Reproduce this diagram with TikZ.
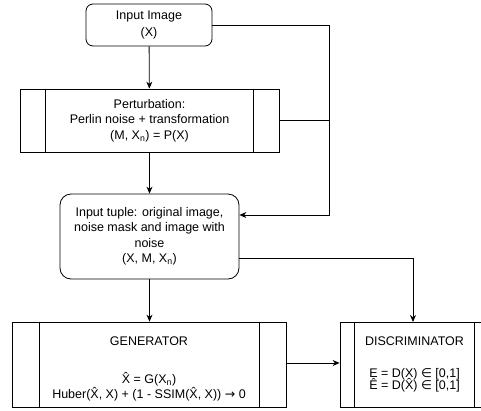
\documentclass[tikz,border=0pt]{standalone}
\usepackage{fontspec}
\setmainfont{Liberation Sans}
\newfontfamily\symfont{DejaVu Sans}
\usetikzlibrary{arrows.meta,positioning,calc}

\begin{document}
\begin{tikzpicture}[x=1pt, y=-1pt,
  every node/.style={font=\fontsize{12.5}{15.5}\selectfont, align=center, inner sep=0pt},
  roundbox/.style={draw, rounded corners=7pt, line width=0.8pt},
  procbox/.style={draw, line width=0.8pt},
  flow/.style={-{Stealth[length=7pt, width=6pt]}, line width=0.8pt},
  link/.style={line width=0.8pt}]
\useasboundingbox (0,0) rectangle (481,410);
% Input and perturbation
\node[roundbox, minimum width=126pt, minimum height=42pt] (input) at (149,25) {Input Image\\[1pt](X)};
\node[procbox, minimum width=259pt, minimum height=63pt] (pert) at (149.5,120.5)
  {Perturbation:\\Perlin noise + transformation\\(M, X\textsubscript{n}) = P(X)};
\draw[link] ($(pert.north west)+(26,0)$) -- ($(pert.south west)+(26,0)$);
\draw[link] ($(pert.north east)+(-26,0)$) -- ($(pert.south east)+(-26,0)$);
% Input tuple
\node[roundbox, rounded corners=11pt, minimum width=179pt, minimum height=85pt] (tuple) at (149.5,236.5)
  {Input tuple: original image,\\noise mask and image with\\noise\\(X, M, X\textsubscript{n})};
% Generator and discriminator
\node[procbox, minimum width=274pt, minimum height=85pt] (gen) at (149,364.5)
  {\rule{0pt}{18pt}GENERATOR\\[22pt]\^{X} = G(X\textsubscript{n})\\Huber(\^{X}, X) + (1 - SSIM(\^{X}, X)) {\symfont →} 0};
\draw[link] ($(gen.north west)+(28,0)$) -- ($(gen.south west)+(28,0)$);
\draw[link] ($(gen.north east)+(-27,0)$) -- ($(gen.south east)+(-27,0)$);
\node[procbox, minimum width=149pt, minimum height=85pt] (disc) at (414.5,364.5)
  {DISCRIMINATOR\\[16pt]E = D(X) {\symfont ∈} [0,1]\\[-3pt]\^{E} = D(\^{X}) {\symfont ∈} [0,1]};
\draw[link] ($(disc.north west)+(15,0)$) -- ($(disc.south west)+(15,0)$);
\draw[link] ($(disc.north east)+(-15,0)$) -- ($(disc.south east)+(-15,0)$);
% Connectors
\coordinate (bend) at (329,215);
\draw[flow] (input) -- (pert);
\draw[flow] (pert.south -| tuple.north) -- (tuple);
\draw[flow] (input.east) -- (input.east -| bend) -- (bend) -- (bend -| tuple.east);
\draw[link] (pert.east) -- (pert.east -| bend);
\draw[flow] (tuple.south) -- (gen.north -| tuple.south);
\draw[flow] ($(tuple.east)+(0,21.5)$) -| (413,322);
\draw[flow] ($(gen.east)+(0,-1.5)$) -- ($(disc.west)+(0,-1.5)$);
\end{tikzpicture}
\end{document}
